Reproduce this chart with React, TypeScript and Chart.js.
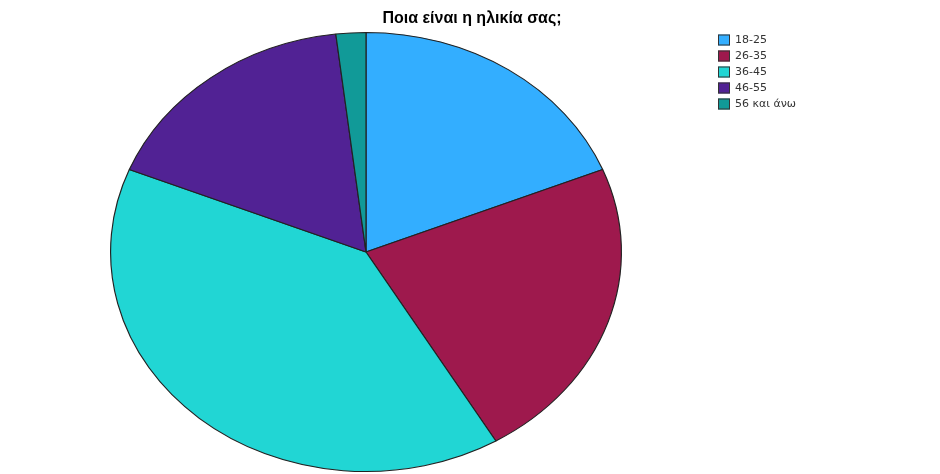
import React, { useEffect, useRef } from "react";
import { Chart, registerables } from "chart.js";

Chart.register(...registerables);

const titleText = "Ποια είναι η ηλικία σας;";
const categories = ["18-25", "26-35", "36-45", "46-55", "56 και άνω"];
const counts = [10, 12, 21, 9, 1];
const colors = ["#33AEFF", "#9E194D", "#21D6D4", "#512294", "#119A98"];

const SX = 256 / 220;

const ellipsePlugin = {
  id: "ellipse",
  beforeDatasetsDraw(chart: any) {
    const ctx = chart.ctx;
    const arc = chart.getDatasetMeta(0).data[0];
    const cx = arc.x;
    const cy = arc.y;
    ctx.save();
    ctx.translate(cx, cy);
    ctx.scale(SX, 1);
    ctx.translate(-cx, -cy);
  },
  afterDatasetsDraw(chart: any) {
    chart.ctx.restore();
  },
};

const textPlugin = {
  id: "texts",
  afterDraw(chart: any) {
    const ctx = chart.ctx;
    ctx.save();
    ctx.fillStyle = "#000";
    ctx.font = "bold 16px 'Liberation Sans', Arial, sans-serif";
    ctx.textAlign = "center";
    ctx.textBaseline = "middle";
    ctx.fillText(titleText, 472, 19);
    ctx.font = "11px 'DejaVu Sans', sans-serif";
    ctx.textAlign = "left";
    categories.forEach((c, i) => {
      const y = 40 + i * 16;
      ctx.fillStyle = colors[i];
      ctx.fillRect(718, y - 5.5, 12, 11);
      ctx.strokeStyle = "#333";
      ctx.lineWidth = 1;
      ctx.strokeRect(718.5, y - 5, 11, 10);
      ctx.fillStyle = "#333";
      ctx.fillText(c, 735, y + 0.5);
    });
    ctx.restore();
  },
};

export default function App() {
  const ref = useRef<HTMLCanvasElement>(null);
  useEffect(() => {
    if (!ref.current) return;
    const chart = new Chart(ref.current, {
      type: "pie",
      data: {
        labels: categories,
        datasets: [
          {
            data: counts,
            backgroundColor: colors,
            borderColor: "#222",
            borderWidth: 1,
            clip: false as any,
          },
        ],
      },
      options: {
        animation: false,
        responsive: false,
        maintainAspectRatio: false,
        layout: { padding: { left: 146, right: 354, top: 31, bottom: 1 } },
        plugins: {
          legend: { display: false },
          title: { display: false },
          tooltip: { enabled: false },
        },
      },
      plugins: [ellipsePlugin, textPlugin],
    });
    return () => chart.destroy();
  }, []);
  return (
    <div style={{ position: "fixed", left: 0, top: 0, width: 940, height: 474, background: "#fff" }}>
      <canvas ref={ref} width={940} height={474} style={{ width: 940, height: 474, display: "block" }} />
    </div>
  );
}
